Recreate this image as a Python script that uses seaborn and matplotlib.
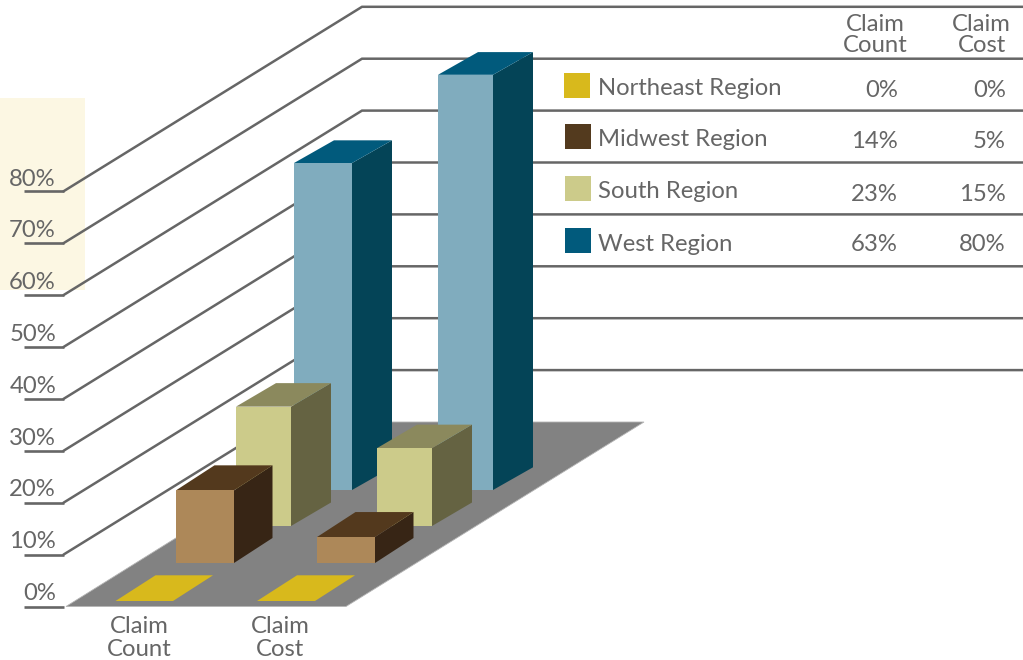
import matplotlib
matplotlib.use("Agg")
import matplotlib.pyplot as plt
from matplotlib.patches import Polygon, Rectangle
import pandas as pd
import seaborn as sns

# ---- data ----
metrics = ["Claim Count", "Claim Cost"]
regions = ["Northeast Region", "Midwest Region", "South Region", "West Region"]
claim_count = [0, 14, 23, 63]
claim_cost = [0, 5, 15, 80]
tick_values = [0, 10, 20, 30, 40, 50, 60, 70, 80]

df = pd.DataFrame({"region": regions, "Claim Count": claim_count, "Claim Cost": claim_cost})
long_df = df.melt(id_vars="region", var_name="metric", value_name="value")

# ---- styling and layout ----
sns.set_theme(style="white")
plt.rcParams["font.family"] = ["Lato", "DejaVu Sans"]
GREY = "#666666"
FS = 17.2
PX_PER_PCT = 5.19
Y0 = 606.5
Y_BACK = 422.0


def py(pixel_y):
    """Figure row to value-axis position."""
    return (Y0 - pixel_y) / PX_PER_PCT


style = {
    "Northeast Region": dict(front="#D8B91C", side="#D8B91C", top="#D8B91C", swatch="#D8B91C"),
    "Midwest Region": dict(front="#AD8859", side="#372515", top="#53391D", swatch="#533A1E"),
    "South Region": dict(front="#CCCB8A", side="#656342", top="#8B895D", swatch="#CCCB8A"),
    "West Region": dict(front="#80ACBE", side="#044457", top="#015A7C", swatch="#015A7C"),
}
# left edges per metric, widths per metric, floor row, depth dx, depth dy
layout = {
    "West Region": ([294, 438], [58, 55], 490, 40, 22.7),
    "South Region": ([236, 377], [55, 55], 526, 40, 23.5),
    "Midwest Region": ([176, 317], [58, 58], 563, 38.5, 25),
    "Northeast Region": ([115.5, 257], [57.5, 58], 601, 40, 25.7),
}
swatch_boxes = {
    "Northeast Region": (564, 73),
    "Midwest Region": (565, 124),
    "South Region": (565, 176),
    "West Region": (565, 228),
}
legend_base = [95, 146.5, 198, 250.5]
value_base = [97, 148.5, 201, 251]

fig = plt.figure(figsize=(10.23, 6.6), dpi=100)
ax = fig.add_axes([0, 0, 1, 1])

# cream panel behind the upper axis labels
ax.add_patch(Rectangle((0, py(290)), 85, py(98) - py(290), fc="#FCF7E3", ec="none", zorder=0))

# floor
ax.add_patch(Polygon([(66, py(Y0)), (346, py(Y0)), (644, py(Y_BACK)), (362, py(Y_BACK))],
                     closed=True, fc="#828282", ec="#B5B5B5", lw=0.6, zorder=1))

# axis ticks, wall lines and back-wall rules
depth_pct = py(Y_BACK)
for v in tick_values:
    ax.plot([24, 63.5], [v, v], color=GREY, lw=1.9, solid_capstyle="butt", zorder=2)
    if v > 0:
        ax.plot([63.5, 362, 1023], [v, v + depth_pct, v + depth_pct], color=GREY, lw=1.8,
                solid_joinstyle="miter", zorder=2)
    base = 600 - 51.8 * v / 10
    ax.text(56, py(base), f"{v}%", ha="right", va="baseline", fontsize=FS, color=GREY, zorder=6)

# bars, from the back row to the front row
z = 3
for region in ["West Region", "South Region", "Midwest Region", "Northeast Region"]:
    lefts, widths, floor_y, dx, dy = layout[region]
    colors = style[region]
    dy_pct = dy / PX_PER_PCT
    bottom = py(floor_y)
    for i, metric in enumerate(metrics):
        value = long_df[(long_df.region == region) & (long_df.metric == metric)]["value"].iloc[0]
        left, width = lefts[i], widths[i]
        one = pd.DataFrame({"pos": [left + width / 2], "value": [value]})
        top = bottom + value
        ax.add_patch(Polygon([(left + width, bottom), (left + width + dx, bottom + dy_pct),
                              (left + width + dx, top + dy_pct), (left + width, top)],
                             closed=True, fc=colors["side"], ec="none", zorder=z))
        ax.add_patch(Polygon([(left, top), (left + width, top),
                              (left + width + dx, top + dy_pct), (left + dx, top + dy_pct)],
                             closed=True, fc=colors["top"], ec="none", zorder=z))
        sns.barplot(data=one, x="pos", y="value", native_scale=True, width=width, bottom=bottom,
                    color=colors["front"], saturation=1, errorbar=None, linewidth=0,
                    ax=ax, zorder=z)
        z += 1

# category labels under the floor
for label, cx in zip(metrics, [139, 280]):
    first, second = label.split()
    ax.text(cx, py(632.7), first, ha="center", va="baseline", fontsize=FS, color=GREY, zorder=6)
    ax.text(cx, py(655.7), second, ha="center", va="baseline", fontsize=FS, color=GREY, zorder=6)

# table header
for label, cx in zip(metrics, [875, 981.7]):
    first, second = label.split()
    ax.text(cx, py(30.7), first, ha="center", va="baseline", fontsize=FS, color=GREY, zorder=6)
    ax.text(cx, py(52), second, ha="center", va="baseline", fontsize=FS, color=GREY, zorder=6)

# legend swatches and table rows
for i, region in enumerate(regions):
    sx, sy = swatch_boxes[region]
    ax.add_patch(Rectangle((sx, py(sy + 25)), 26, 25 / PX_PER_PCT,
                           fc=style[region]["swatch"], ec="none", zorder=6))
    ax.text(598.5, py(legend_base[i]), region, ha="left", va="baseline", fontsize=FS, color=GREY, zorder=6)
    ax.text(898, py(value_base[i]), f"{claim_count[i]}%", ha="right", va="baseline",
            fontsize=FS, color=GREY, zorder=6)
    ax.text(1006, py(value_base[i]), f"{claim_cost[i]}%", ha="right", va="baseline",
            fontsize=FS, color=GREY, zorder=6)

ax.set_xlim(0, 1023)
ax.set_ylim(py(660), py(0))
ax.axis("off")
fig.savefig("out.png", dpi=100)
